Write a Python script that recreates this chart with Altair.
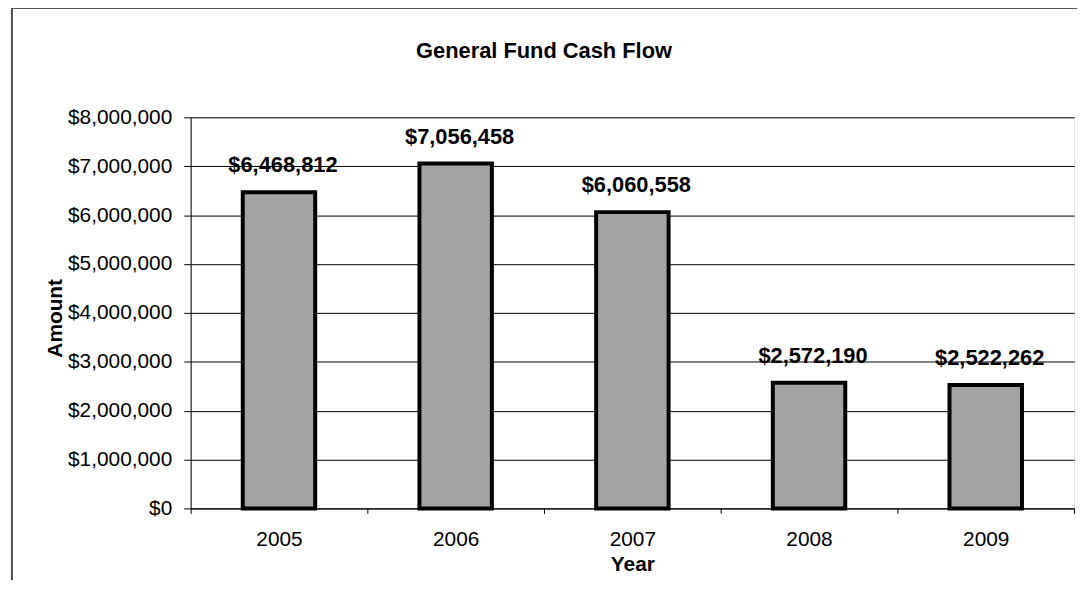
import altair as alt
import pandas as pd

years = ["2005", "2006", "2007", "2008", "2009"]
amounts = [6468812, 7056458, 6060558, 2572190, 2522262]
labels = ["$6,468,812", "$7,056,458", "$6,060,558", "$2,572,190", "$2,522,262"]
title_text = ["General Fund Cash Flow"]

df = pd.DataFrame({"Year": years, "Amount": amounts, "Label": labels})
tdf = pd.DataFrame({"t": title_text})

W, H = 890, 394
FONT = "Liberation Sans"

x = alt.X("Year:N", title="Year",
          scale=alt.Scale(paddingInner=0, paddingOuter=0),
          axis=alt.Axis(labelAngle=0, tickBand="extent", labelFontSize=21,
                        labelFont=FONT, labelColor="black", labelPadding=15,
                        titleFont=FONT, titleFontSize=21, titleFontWeight="bold",
                        titlePadding=5, domainColor="black", tickColor="black",
                        tickSize=5, grid=False))
y = alt.Y("Amount:Q", title="Amount",
          scale=alt.Scale(domain=[0, 8000000], nice=False),
          axis=alt.Axis(values=list(range(0, 8000001, 1000000)), format="$,.0f",
                        labelFontSize=21, labelFont=FONT, labelColor="black",
                        labelPadding=12, tickSize=7, tickColor="black",
                        domainColor="black", gridColor="black", gridWidth=1,
                        titleFont=FONT, titleFontSize=21, titleFontWeight="bold",
                        titleX=-126, titleY=H / 2 + 5, titleAngle=270))

bars = alt.Chart(df).mark_bar(size=73, color="#a3a3a3", stroke="black",
                              strokeWidth=4).encode(x=x, y=y)

text = alt.Chart(df).mark_text(font=FONT, fontSize=22, fontWeight="bold",
                               color="black", dy=-27, dx=4,
                               baseline="middle").encode(
    x=alt.X("Year:N"), y=alt.Y("Amount:Q"), text="Label:N")

title = alt.Chart(tdf).mark_text(font=FONT, fontSize=22, fontWeight="bold",
                                 color="black", baseline="middle",
                                 align="center").encode(
    x=alt.value(356), y=alt.value(-67), text="t:N")

frame_left = alt.Chart(df).mark_rule(color="#555555", strokeWidth=2).encode(
    x=alt.value(-180), y=alt.value(-110), y2=alt.value(H + 80))
frame_top = alt.Chart(df).mark_rule(color="#555555", strokeWidth=2).encode(
    x=alt.value(-180), x2=alt.value(W + 3), y=alt.value(-110))

chart = alt.layer(bars, text, title, frame_left, frame_top).properties(
    width=W, height=H,
    autosize=alt.AutoSizeParams(type="none"),
    padding={"left": 184, "top": 108, "right": 10, "bottom": 70},
).configure_view(fill="#c2c2c2", stroke="black", strokeWidth=1.5
).configure(background="white")

chart.save("out.html", embed_options={"renderer": "svg", "actions": False})
